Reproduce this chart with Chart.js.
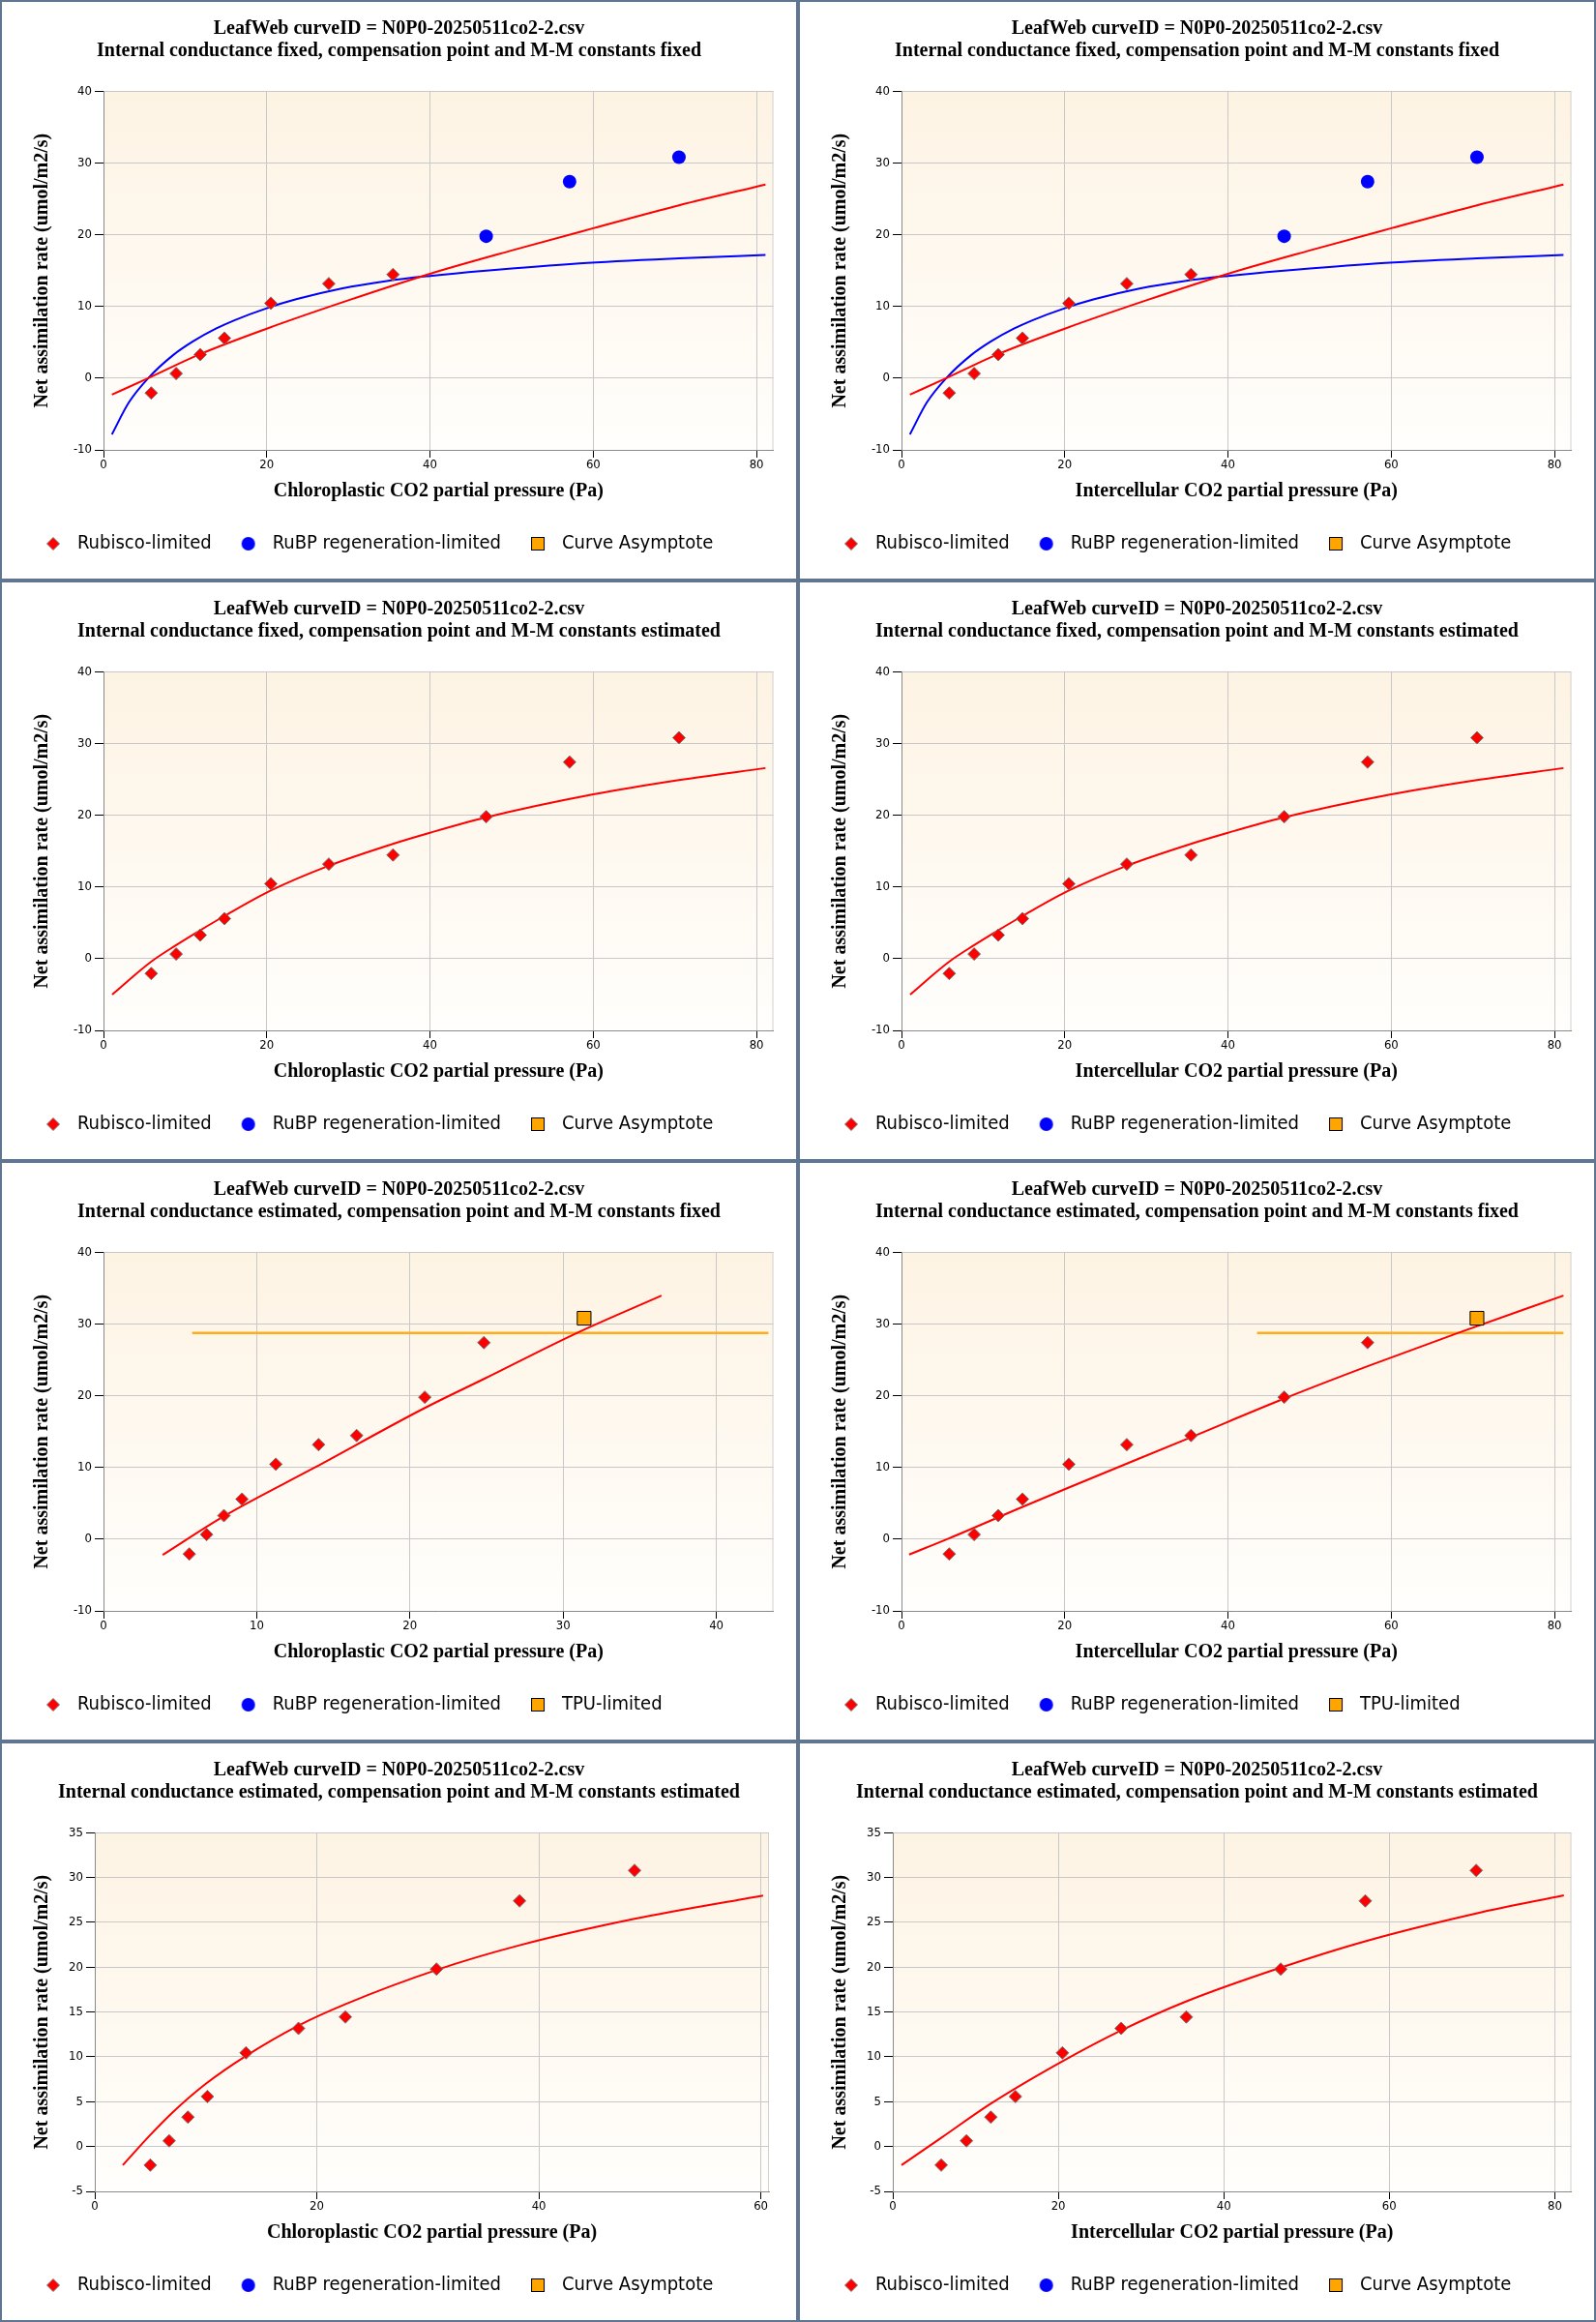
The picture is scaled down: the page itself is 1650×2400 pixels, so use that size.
<!DOCTYPE html>
<html>
<head>
<meta charset="utf-8">
<script src="https://cdn.jsdelivr.net/npm/chart.js@4/dist/chart.umd.min.js"></script>
<style>
html, body { margin: 0; padding: 0; background: #fff; }
#grid {
  width: 1650px; height: 2400px; box-sizing: border-box; padding: 2px;
  background: #5f7590; display: grid; gap: 4px;
  grid-template-columns: 821px 821px; grid-template-rows: repeat(4, 596px);
}
.cell { background: #fff; width: 821px; height: 596px; }
canvas { display: block; }
</style>
</head>
<body>
<div id="grid"></div>
<script>
const aValues      = [-2.07, 0.64, 3.28, 5.58, 10.45, 13.18, 14.45, 19.79, 27.4, 30.8];
const ciValues     = [5.85, 8.9, 11.85, 14.82, 20.5, 27.6, 35.47, 46.88, 57.1, 70.5];
const ccGmEstKFix  = [5.6, 6.73, 7.86, 9.04, 11.25, 14.04, 16.52, 20.97, 24.83, 31.37];
const ccGmEstKEst  = [5.0, 6.7, 8.39, 10.14, 13.62, 18.35, 22.57, 30.78, 38.26, 48.62];

// fitted curves
const rubiscoAX = [1.03, 5.48, 11.8, 20, 30, 40, 50, 60, 70.5, 81.1];
const rubiscoAY = [-2.3, 0.0, 3.33, 6.9, 10.85, 14.55, 17.8, 20.9, 24.1, 27.0];
const rubpAX    = [1.03, 3.1, 5.48, 8.52, 11.0, 13.77, 16.1, 20, 23.6, 29.15, 34.7, 40, 46.5, 58.3, 70.5, 81.1];
const rubpAY    = [-7.84, -3.4, 0.0, 3.2, 5.15, 6.9, 8.1, 9.75, 11.0, 12.5, 13.55, 14.25, 14.95, 16.0, 16.7, 17.17];
const rubiscoBX = [1.06, 5.8, 8.85, 11.84, 14.83, 20.5, 27.6, 35.45, 40, 46.9, 60, 70.5, 81.1];
const rubiscoBY = [-5.0, -0.45, 1.85, 3.95, 5.95, 9.5, 12.95, 16.0, 17.55, 19.7, 22.9, 24.9, 26.57];
const rubiscoCX = [3.86, 7.86, 13.8, 20.97, 24.83, 30.89, 36.42];
const rubiscoCY = [-2.2, 3.2, 10.0, 18.29, 22.34, 28.74, 33.96];
const rubiscoDX = [0.93, 5.8, 14.83, 20.5, 35.45, 46.9, 57.1, 68.3, 81.1];
const rubiscoDY = [-2.15, 0.1, 4.5, 7.2, 14.2, 19.6, 24.1, 28.8, 33.96];
const rubiscoEX = [2.52, 5, 7, 10, 13.6, 18.35, 22.6, 30.78, 38.26, 48.62, 60.2];
const rubiscoEY = [-2.07, 1.3, 3.8, 7.0, 10.1, 13.5, 15.9, 19.7, 22.45, 25.4, 28.0];
const rubiscoFX = [1.05, 5.9, 11.87, 20.48, 27.6, 35.5, 46.86, 57.1, 70.5, 81.1];
const rubiscoFY = [-2.07, 1.0, 4.8, 9.5, 12.95, 16.2, 19.95, 22.9, 26.0, 28.02];
const tpuCX = [5.79, 43.4];
const tpuDX = [43.55, 81.1];
const tpuY  = [28.74, 28.74];

// tick labels
const xTicks80 = [0, 20, 40, 60, 80];
const xTicks40 = [0, 10, 20, 30, 40];
const xTicks60 = [0, 20, 40, 60];
const yTicks40 = [-10, 0, 10, 20, 30, 40];
const yTicks35 = [-5, 0, 5, 10, 15, 20, 25, 30, 35];

const mainTitle = 'LeafWeb curveID = N0P0-20250511co2-2.csv';
const chloroTitle = 'Chloroplastic CO2 partial pressure (Pa)';
const interTitle = 'Intercellular CO2 partial pressure (Pa)';
const yTitle = 'Net assimilation rate (umol/m2/s)';
const subFF = 'Internal conductance fixed, compensation point and M-M constants fixed';
const subFE = 'Internal conductance fixed, compensation point and M-M constants estimated';
const subEF = 'Internal conductance estimated, compensation point and M-M constants fixed';
const subEE = 'Internal conductance estimated, compensation point and M-M constants estimated';

const serif = "'Liberation Serif', 'Times New Roman', serif";
const sans = "'DejaVu Sans Condensed', 'Liberation Sans Narrow', 'DejaVu Sans', sans-serif";

const pts = (xs, ys) => xs.map((x, i) => ({x: x, y: ys[i]}));

const panels = [
  {sub: subFF, xTitle: chloroTitle, x: ciValues, split: 7, third: 'Curve Asymptote', xMax: 82.06, xTicks: xTicks80,
   yMin: -10, yMax: 40, yTicks: yTicks40, axisW: 90, padR: 23.5, red: [rubiscoAX, rubiscoAY], blue: [rubpAX, rubpAY]},
  {sub: subFF, xTitle: interTitle, x: ciValues, split: 7, third: 'Curve Asymptote', xMax: 82.06, xTicks: xTicks80,
   yMin: -10, yMax: 40, yTicks: yTicks40, axisW: 90, padR: 23.5, red: [rubiscoAX, rubiscoAY], blue: [rubpAX, rubpAY]},
  {sub: subFE, xTitle: chloroTitle, x: ciValues, split: 10, third: 'Curve Asymptote', xMax: 82.06, xTicks: xTicks80,
   yMin: -10, yMax: 40, yTicks: yTicks40, axisW: 90, padR: 23.5, red: [rubiscoBX, rubiscoBY]},
  {sub: subFE, xTitle: interTitle, x: ciValues, split: 10, third: 'Curve Asymptote', xMax: 82.06, xTicks: xTicks80,
   yMin: -10, yMax: 40, yTicks: yTicks40, axisW: 90, padR: 23.5, red: [rubiscoBX, rubiscoBY]},
  {sub: subEF, xTitle: chloroTitle, x: ccGmEstKFix, split: 9, tpu: true, third: 'TPU-limited', xMax: 43.72, xTicks: xTicks40,
   yMin: -10, yMax: 40, yTicks: yTicks40, axisW: 90, padR: 23.5, red: [rubiscoCX, rubiscoCY], orange: [tpuCX, tpuY]},
  {sub: subEF, xTitle: interTitle, x: ciValues, split: 9, tpu: true, third: 'TPU-limited', xMax: 82.06, xTicks: xTicks80,
   yMin: -10, yMax: 40, yTicks: yTicks40, axisW: 90, padR: 23.5, red: [rubiscoDX, rubiscoDY], orange: [tpuDX, tpuY]},
  {sub: subEE, xTitle: chloroTitle, x: ccGmEstKEst, split: 10, third: 'Curve Asymptote', xMax: 60.73, xTicks: xTicks60,
   yMin: -5, yMax: 35, yTicks: yTicks35, axisW: 81, padR: 28, red: [rubiscoEX, rubiscoEY]},
  {sub: subEE, xTitle: interTitle, x: ciValues, split: 10, third: 'Curve Asymptote', xMax: 82.0, xTicks: xTicks80,
   yMin: -5, yMax: 35, yTicks: yTicks35, axisW: 81, padR: 23.5, red: [rubiscoFX, rubiscoFY]}
];

// legend markers
function legendMark(kind) {
  const c = document.createElement('canvas');
  c.width = 30; c.height = 20;
  const g = c.getContext('2d');
  if (kind === 'diamond') {
    g.beginPath();
    g.moveTo(15, 3.5); g.lineTo(21.5, 10); g.lineTo(15, 16.5); g.lineTo(8.5, 10);
    g.closePath();
    g.fillStyle = '#ff0000'; g.fill();
    g.strokeStyle = '#7a7a7a'; g.lineWidth = 1; g.stroke();
  } else if (kind === 'circle') {
    g.beginPath(); g.arc(15, 10, 7, 0, Math.PI * 2);
    g.fillStyle = '#0000ff'; g.fill();
  } else {
    g.fillStyle = '#ffa500'; g.fillRect(8.5, 3.5, 13, 13);
    g.strokeStyle = '#000'; g.lineWidth = 1; g.strokeRect(8.5, 3.5, 13, 13);
  }
  return c;
}
const marks = {diamond: legendMark('diamond'), circle: legendMark('circle'), square: legendMark('square')};

const plotBackground = {
  id: 'plotBackground',
  beforeDraw(chart) {
    const {ctx, chartArea: a} = chart;
    const g = ctx.createLinearGradient(0, a.top, 0, a.bottom);
    g.addColorStop(0, '#fdf3e3');
    g.addColorStop(1, '#fffefc');
    ctx.save();
    ctx.fillStyle = g;
    ctx.fillRect(a.left, a.top, a.right - a.left, a.bottom - a.top);
    ctx.strokeStyle = '#d2d2d2';
    ctx.lineWidth = 1;
    ctx.beginPath();
    ctx.moveTo(a.right - 0.5, a.top);
    ctx.lineTo(a.right - 0.5, a.bottom);
    ctx.stroke();
    ctx.restore();
  },
  afterLayout(chart) {
    // centre the title on the whole panel
    if (chart.titleBlock) {
      chart.titleBlock.left = 0;
      chart.titleBlock.right = chart.width;
    }
  }
};

const grid = document.getElementById('grid');

panels.forEach(p => {
  const cell = document.createElement('div');
  cell.className = 'cell';
  const canvas = document.createElement('canvas');
  canvas.width = 821; canvas.height = 596;
  cell.appendChild(canvas);
  grid.appendChild(cell);

  const measured = pts(p.x, aValues);
  const datasets = [
    {label: 'Rubisco-limited', mark: 'diamond', data: measured.slice(0, p.split),
     pointStyle: 'rectRot', pointRadius: 6.5, backgroundColor: '#ff0000', borderColor: '#777', borderWidth: 1},
    {label: 'RuBP regeneration-limited', mark: 'circle', data: p.tpu ? [] : measured.slice(p.split),
     pointStyle: 'circle', pointRadius: 7, backgroundColor: '#0000ff', borderColor: '#0000ff', borderWidth: 0},
    {label: p.third, mark: 'square', data: p.tpu ? measured.slice(p.split) : [],
     pointStyle: 'rect', pointRadius: 10, backgroundColor: '#ffa500', borderColor: '#000', borderWidth: 1},
    {data: pts(p.red[0], p.red[1]), showLine: true, fill: false, borderColor: '#ff0000', borderWidth: 2,
     pointRadius: 0, cubicInterpolationMode: 'monotone'}
  ];
  if (p.blue) {
    datasets.push({data: pts(p.blue[0], p.blue[1]), showLine: true, fill: false, borderColor: '#0000ff',
      borderWidth: 2, pointRadius: 0, cubicInterpolationMode: 'monotone'});
  }
  if (p.orange) {
    datasets.push({data: pts(p.orange[0], p.orange[1]), showLine: true, fill: false, borderColor: '#ffac1c',
      borderWidth: 2.5, pointRadius: 0});
  }

  new Chart(canvas, {
    type: 'scatter',
    data: {datasets: datasets},
    options: {
      responsive: false,
      animation: false,
      events: [],
      layout: {padding: {left: 15, right: p.padR, top: 0, bottom: 16}},
      plugins: {
        title: {
          display: true, text: [mainTitle, p.sub], color: '#000',
          font: {family: serif, size: 20, weight: 'bold', lineHeight: 1.15},
          padding: {top: 16.5, bottom: 29.8}
        },
        legend: {
          position: 'bottom', align: 'start',
          labels: {
            usePointStyle: true, pointStyleWidth: 30, padding: 23, color: '#000',
            font: {family: sans, size: 20},
            generateLabels: chart => chart.data.datasets
              .map((ds, i) => ({text: ds.label, pointStyle: marks[ds.mark], datasetIndex: i,
                hidden: false, lineWidth: 0, fillStyle: 'transparent', strokeStyle: 'transparent', fontColor: '#000'}))
              .filter(l => l.text)
          }
        },
        tooltip: {enabled: false}
      },
      scales: {
        x: {
          type: 'linear', min: 0, max: p.xMax,
          afterBuildTicks: s => { s.ticks = p.xTicks.map(v => ({value: v})); },
          afterFit: s => { s.height = 64; },
          ticks: {color: '#000', font: {family: sans, size: 13}, padding: 0, includeBounds: false},
          grid: {color: '#c8c8c8', tickColor: '#000', tickLength: 8},
          border: {color: '#8a8a8a'},
          title: {display: true, text: p.xTitle, color: '#000',
            font: {family: serif, size: 20, weight: 'bold'}, padding: 9}
        },
        y: {
          type: 'linear', min: p.yMin, max: p.yMax,
          afterBuildTicks: s => { s.ticks = p.yTicks.map(v => ({value: v})); },
          afterFit: s => { s.width = p.axisW; },
          ticks: {color: '#000', font: {family: sans, size: 13}, padding: 3},
          grid: {color: '#c8c8c8', tickColor: '#000', tickLength: 9},
          border: {color: '#8a8a8a'},
          title: {display: true, text: yTitle, color: '#000',
            font: {family: serif, size: 20, weight: 'bold'}, padding: 14.7}
        }
      }
    },
    plugins: [plotBackground]
  });
});
</script>
</body>
</html>
